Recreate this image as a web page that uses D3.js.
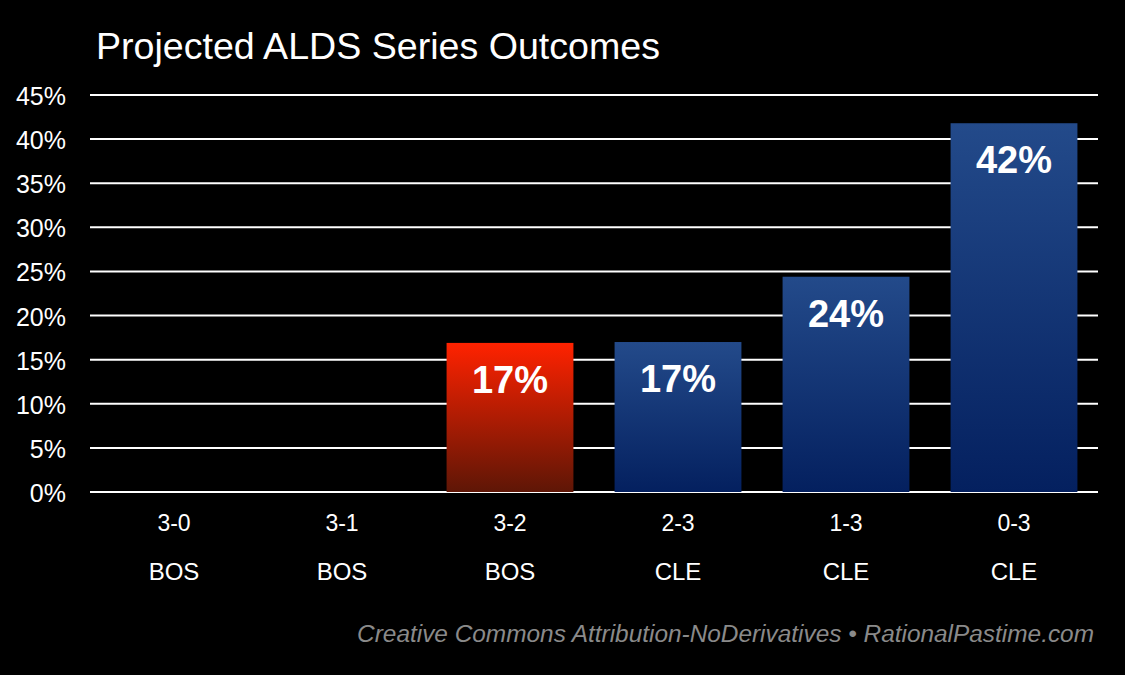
<!DOCTYPE html>
<html>
<head>
<meta charset="utf-8">
<script src="https://cdn.jsdelivr.net/npm/d3@7"></script>
<style>
  html, body { margin: 0; padding: 0; background: #000; }
  svg { display: block; font-family: "Liberation Sans", Arial, sans-serif; }
</style>
</head>
<body>
<svg id="chart" width="1125" height="675"></svg>
<script>
const scores = ['3-0', '3-1', '3-2', '2-3', '1-3', '0-3'];
const winners = ['BOS', 'BOS', 'BOS', 'CLE', 'CLE', 'CLE'];
const chances = [0, 0, 16.9, 17.0, 24.4, 41.8];
const labels = ['', '', '17%', '17%', '24%', '42%'];
const yTicks = [0, 5, 10, 15, 20, 25, 30, 35, 40, 45];

const svg = d3.select('#chart');
const W = 1125, H = 675;
const plotLeft = 90, plotRight = 1098, plotTop = 95, plotBottom = 492;

svg.append('rect').attr('width', W).attr('height', H).attr('fill', '#000');

const defs = svg.append('defs');
function gradient(id, c1, c2) {
  const g = defs.append('linearGradient')
    .attr('id', id).attr('x1', 0).attr('y1', 0).attr('x2', 0).attr('y2', 1);
  g.append('stop').attr('offset', '0%').attr('stop-color', c1);
  g.append('stop').attr('offset', '100%').attr('stop-color', c2);
}
gradient('red', '#ff2200', '#5e1606');
gradient('blue', '#234a8a', '#04205f');

const x = d3.scaleBand().domain(scores).range([plotLeft, plotRight])
  .paddingInner(0.245).paddingOuter(0.1225);
const y = d3.scaleLinear().domain([0, 45]).range([plotBottom, plotTop]);

// gridlines
svg.append('g').selectAll('line')
  .data(yTicks)
  .join('line')
  .attr('x1', plotLeft).attr('x2', plotRight)
  .attr('y1', d => y(d)).attr('y2', d => y(d))
  .attr('stroke', '#fff').attr('stroke-width', 2);

// y tick labels
svg.append('g').selectAll('text')
  .data(yTicks)
  .join('text')
  .attr('x', 66).attr('y', d => y(d) + 10)
  .attr('text-anchor', 'end')
  .attr('fill', '#fff').attr('font-size', 25)
  .text(d => d + '%');

// bars
const idx = d3.range(scores.length).filter(i => chances[i] > 0);
svg.append('g').selectAll('rect')
  .data(idx)
  .join('rect')
  .attr('x', i => x(scores[i]))
  .attr('width', x.bandwidth())
  .attr('y', i => y(chances[i]))
  .attr('height', i => y(0) - y(chances[i]))
  .attr('fill', i => winners[i] === 'BOS' ? 'url(#red)' : 'url(#blue)');

svg.append('g').selectAll('text')
  .data(idx)
  .join('text')
  .attr('x', i => x(scores[i]) + x.bandwidth() / 2)
  .attr('y', i => y(chances[i]) + 50)
  .attr('text-anchor', 'middle')
  .attr('fill', '#fff').attr('font-size', 38).attr('font-weight', 'bold')
  .text(i => labels[i]);

// category labels, two rows
const cat = svg.append('g');
cat.selectAll('text.score')
  .data(scores)
  .join('text')
  .attr('class', 'score')
  .attr('x', d => x(d) + x.bandwidth() / 2)
  .attr('y', 531)
  .attr('text-anchor', 'middle')
  .attr('fill', '#fff').attr('font-size', 23)
  .text(d => d);
cat.selectAll('text.team')
  .data(scores)
  .join('text')
  .attr('class', 'team')
  .attr('x', d => x(d) + x.bandwidth() / 2)
  .attr('y', 580)
  .attr('text-anchor', 'middle')
  .attr('fill', '#fff').attr('font-size', 24)
  .text((d, i) => winners[i]);

// title
svg.append('text')
  .attr('x', 96).attr('y', 59)
  .attr('fill', '#fff').attr('font-size', 37.6)
  .text('Projected ALDS Series Outcomes');

// footer
svg.append('text')
  .attr('x', 1094).attr('y', 642)
  .attr('text-anchor', 'end')
  .attr('fill', '#8a8a8a').attr('font-size', 24.4).attr('font-style', 'italic')
  .text('Creative Commons Attribution-NoDerivatives \u2022 RationalPastime.com');
</script>
</body>
</html>
